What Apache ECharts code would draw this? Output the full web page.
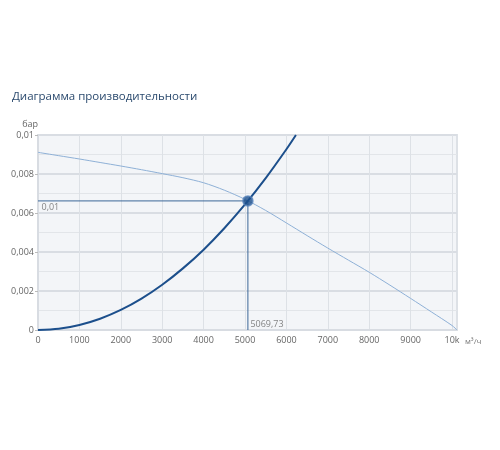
<!DOCTYPE html>
<html>
<head>
<meta charset="utf-8">
<script src="https://cdn.jsdelivr.net/npm/echarts@6/dist/echarts.min.js"></script>
<style>html,body{margin:0;padding:0;background:#fff;}#c{width:500px;height:450px;}</style>
</head>
<body>
<div id="c"></div>
<script>
const titleText = 'Диаграмма производительности';
const xName = 'м³/ч';
const yName = 'бар';
// Pump curve (flow m3/h, pressure bar)
const pumpX = [0, 500, 1000, 1500, 2000, 2500, 3000, 3500, 4000, 4500, 5000, 5500, 6000, 6500, 7000, 7500, 8000, 8500, 9000, 9500, 10000, 10120];
const pumpY = [0.00911, 0.00894, 0.00877, 0.00859, 0.00841, 0.00822, 0.00802, 0.00781, 0.00755, 0.00717, 0.0067, 0.00613, 0.00549, 0.00484, 0.0042, 0.00358, 0.00296, 0.0023, 0.00162, 0.00093, 0.00023, 0.0];
// System curve
const sysX = [0, 500, 1000, 1500, 2000, 2500, 3000, 3500, 4000, 4500, 5000, 5500, 6000, 6230];
const sysY = [0, 0.00006, 0.00026, 0.00058, 0.00103, 0.00161, 0.00232, 0.00316, 0.00412, 0.00522, 0.00644, 0.00779, 0.00927, 0.01];
// Operating point
const opX = 5069.73;
const opY = 0.00662;
const opXLabel = '5069,73';
const opYLabel = '0,01';

const zip = (a, b) => a.map((v, i) => [v, b[i]]);
const chart = echarts.init(document.getElementById('c'));
const guideColor = '#3c6798';
const lbl = { color: '#666', fontSize: 9, fontFamily: 'Open Sans' };
chart.setOption({
  animation: false,
  title: {
    text: titleText, left: 7, top: 86,
    textStyle: { fontFamily: 'Open Sans', fontSize: 11.5, fontWeight: 'normal', color: '#2b4a6e' }
  },
  grid: {
    left: 38, right: 43, top: 135, bottom: 120,
    show: true, backgroundColor: '#f3f5f8', borderColor: '#dde1e6', borderWidth: 2
  },
  xAxis: {
    type: 'value', min: 0, max: 10120, interval: 1000,
    name: xName, nameLocation: 'end', nameGap: 8,
    nameTextStyle: { color: '#777', fontSize: 8, fontFamily: 'Open Sans', verticalAlign: 'top', padding: [8, 0, 0, 0] },
    axisLine: { show: true, lineStyle: { color: '#d8dce2', width: 2 } },
    axisTick: { show: false },
    axisLabel: {
      color: '#666', fontSize: 9, fontFamily: 'Open Sans', margin: 6, showMaxLabel: false,
      formatter: v => v >= 10000 ? (v / 1000) + 'k' : String(v)
    },
    splitLine: { show: true, lineStyle: { color: '#dde1e6', width: 1 } }
  },
  yAxis: {
    type: 'value', min: 0, max: 0.01, interval: 0.002,
    name: yName, nameLocation: 'end', nameGap: 6,
    nameTextStyle: { color: '#666', fontSize: 9, fontFamily: 'Open Sans', align: 'right' },
    axisLine: { show: true, lineStyle: { color: '#d8dce2', width: 2 } },
    axisTick: { show: true, length: 3, lineStyle: { color: '#bbb' } },
    axisLabel: {
      color: '#666', fontSize: 9, fontFamily: 'Open Sans', margin: 4,
      formatter: v => String(+v.toFixed(4)).replace('.', ',')
    },
    splitLine: { show: true, lineStyle: { color: '#d9dde3', width: 2 } },
    minorTick: { show: false, splitNumber: 2 },
    minorSplitLine: { show: true, lineStyle: { color: '#e2e5e9', width: 1 } }
  },
  series: [
    {
      type: 'line', data: zip(pumpX, pumpY), smooth: 0.3, symbol: 'none',
      lineStyle: { color: '#8eb0d6', width: 1 }, z: 2
    },
    {
      type: 'line', data: zip(sysX, sysY), smooth: 0.3, symbol: 'none',
      lineStyle: { color: '#1c4f8c', width: 2 }, z: 3
    },
    {
      type: 'line', data: [[0, opY], [opX, opY]], symbol: 'none',
      lineStyle: { color: guideColor, width: 1 }, z: 2
    },
    {
      type: 'line', data: [[opX, opY], [opX, 0]], symbol: 'none',
      lineStyle: { color: guideColor, width: 1 }, z: 2
    },
    {
      type: 'scatter', symbol: 'circle', symbolSize: 1, z: 1,
      itemStyle: { color: 'rgba(0,0,0,0)' },
      data: [
        { value: [0, opY], label: Object.assign({ show: true, formatter: opYLabel, position: 'right', offset: [-2, 7] }, lbl) },
        { value: [opX, 0], label: Object.assign({ show: true, formatter: opXLabel, position: 'right', offset: [-3, -6] }, lbl) }
      ]
    },
    {
      type: 'scatter', data: [[opX, opY]], symbolSize: 10, z: 5,
      itemStyle: { color: '#1c4f8c', borderColor: '#5b86bb', borderWidth: 1.5 }
    }
  ]
});
</script>
</body>
</html>
